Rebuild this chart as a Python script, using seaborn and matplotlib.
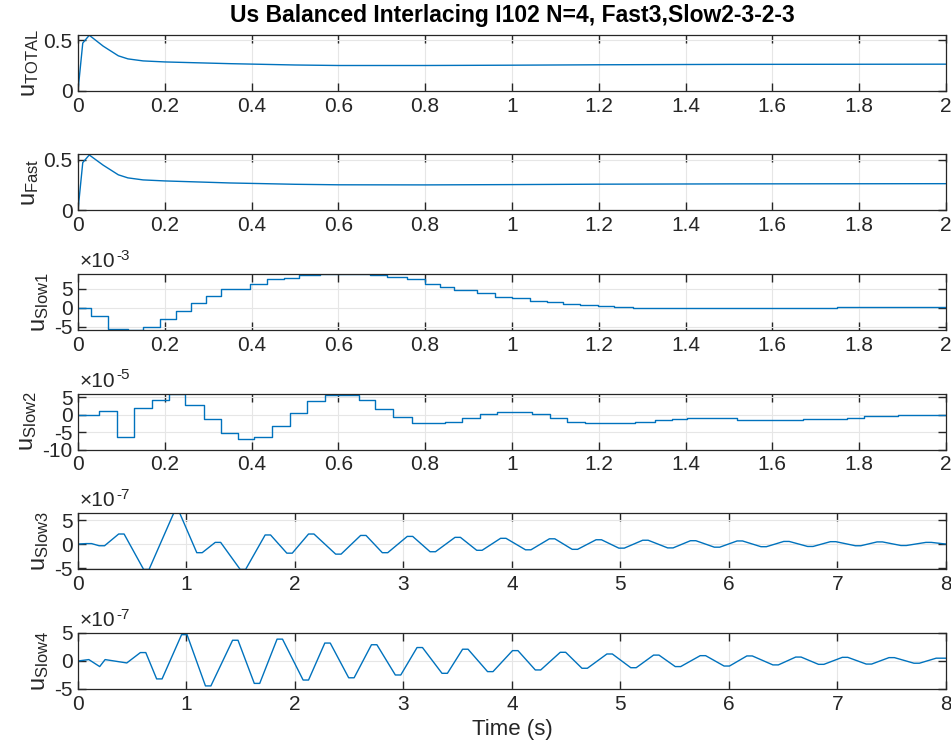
import numpy as np
import pandas as pd
import matplotlib
matplotlib.use("Agg")
import matplotlib.pyplot as plt
import seaborn as sns
from matplotlib.ticker import FuncFormatter

# ---- data ----
# u_TOTAL and u_Fast (time in s)
t_total = [0, 0.011, 0.026, 0.058, 0.093, 0.115, 0.15, 0.2, 0.35, 0.5, 0.6, 0.8, 1.0, 1.2, 1.5, 2.0]
u_total = [0, 0.47, 0.547, 0.44, 0.345, 0.315, 0.295, 0.285, 0.268, 0.255, 0.25, 0.25, 0.253, 0.257, 0.261, 0.263]
t_fast = [0, 0.011, 0.026, 0.058, 0.093, 0.115, 0.15, 0.2, 0.35, 0.5, 0.6, 0.8, 1.0, 1.2, 1.5, 2.0]
u_fast = [0, 0.47, 0.545, 0.445, 0.35, 0.32, 0.30, 0.29, 0.27, 0.257, 0.252, 0.251, 0.254, 0.258, 0.261, 0.263]

# u_Slow1 (x1e-3), step changes
t_slow1 = [0, 0.03, 0.07, 0.115, 0.15, 0.19, 0.225, 0.26, 0.295, 0.33, 0.397, 0.435, 0.474,
           0.51, 0.558, 0.674, 0.712, 0.758, 0.80, 0.835, 0.866, 0.904, 0.919, 0.961, 1.0,
           1.041, 1.08, 1.118, 1.157, 1.199, 1.234, 1.28, 1.326, 1.518, 1.749, 2.0]
u_slow1 = [0, -2.0, -5.6, -5.8, -5.0, -2.8, -0.8, 1.4, 3.2, 5.0, 6.4, 7.5, 8.0,
           8.6, 8.95, 8.6, 8.2, 7.5, 6.3, 5.5, 4.7, 4.7, 3.9, 3.0, 2.5,
           1.9, 1.5, 1.05, 0.8, 0.5, 0.26, 0.1, 0.0, 0.1, 0.26, 0.26]

# u_Slow2 (x1e-5), step changes
t_slow2 = [0, 0.048, 0.09, 0.128, 0.17, 0.209, 0.247, 0.29, 0.33, 0.368, 0.405, 0.447,
           0.489, 0.528, 0.57, 0.647, 0.685, 0.727, 0.77, 0.808, 0.846, 0.885, 0.926,
           0.965, 1.045, 1.087, 1.126, 1.168, 1.241, 1.283, 1.33, 1.368, 1.403, 1.518,
           1.671, 1.771, 1.81, 1.89, 2.0]
u_slow2 = [0, 1.0, -6.5, 2.0, 4.2, 5.9, 2.9, -1.2, -5.2, -7.0, -6.3, -3.3,
           0.5, 3.9, 5.7, 4.1, 1.6, -0.7, -2.3, -2.5, -2.0, -0.9, 0.2,
           0.8, 0.2, -1.0, -2.0, -2.5, -2.4, -2.1, -1.6, -1.2, -0.8, -1.4,
           -1.2, -0.8, -0.4, 0.0, 0.0]

# u_Slow3 (x1e-7), short flat tops/bottoms of the oscillation
t_slow3 = [0, 0.075, 0.125, 0.195, 0.245, 0.375, 0.425, 0.605, 0.655, 0.885, 0.935,
           1.095, 1.145, 1.265, 1.315, 1.495, 1.545, 1.725, 1.775, 1.925, 1.975,
           2.125, 2.175, 2.375, 2.425, 2.605, 2.655, 2.805, 2.855, 3.035, 3.085,
           3.245, 3.295, 3.475, 3.525, 3.675, 3.725, 3.895, 3.945, 4.125, 4.175,
           4.345, 4.395, 4.555, 4.605, 4.775, 4.825, 4.985, 5.035, 5.205, 5.255,
           5.435, 5.485, 5.645, 5.695, 5.865, 5.915, 6.075, 6.125, 6.295, 6.345,
           6.505, 6.555, 6.725, 6.775, 6.935, 6.985, 7.165, 7.215, 7.365, 7.415,
           7.585, 7.635, 7.815, 7.865, 8.0]
u_slow3 = [0, 0.1, 0.1, -0.35, -0.35, 2.1, 2.1, -5.3, -5.3, 6.6, 6.6,
           -1.8, -1.8, 0.35, 0.35, -5.3, -5.3, 1.9, 1.9, -1.9, -1.9,
           2.1, 2.1, -2.1, -2.1, 1.8, 1.8, -1.8, -1.8, 1.6, 1.6,
           -1.6, -1.6, 1.4, 1.4, -1.3, -1.3, 1.2, 1.2, -1.2, -1.2,
           1.1, 1.1, -1.1, -1.1, 0.9, 0.9, -0.85, -0.85, 0.8, 0.8,
           -0.8, -0.8, 0.7, 0.7, -0.65, -0.65, 0.65, 0.65, -0.55, -0.55,
           0.55, 0.55, -0.5, -0.5, 0.5, 0.5, -0.35, -0.35, 0.45, 0.45,
           -0.3, -0.3, 0.35, 0.35, 0.0]

# u_Slow4 (x1e-7), short flat tops/bottoms of the oscillation
t_slow4 = [0, 0.1, 0.2, 0.25, 0.3, 0.45, 0.575, 0.625, 0.725, 0.775, 0.955, 1.005,
           1.175, 1.225, 1.425, 1.475, 1.625, 1.675, 1.835, 1.885, 2.075, 2.125,
           2.275, 2.325, 2.495, 2.545, 2.705, 2.755, 2.925, 2.975, 3.125, 3.175,
           3.355, 3.405, 3.545, 3.595, 3.775, 3.825, 4.005, 4.055, 4.215, 4.265,
           4.445, 4.495, 4.645, 4.695, 4.875, 4.925, 5.095, 5.145, 5.305, 5.355,
           5.505, 5.555, 5.735, 5.785, 5.955, 6.005, 6.165, 6.215, 6.405, 6.455,
           6.615, 6.665, 6.825, 6.875, 7.045, 7.095, 7.265, 7.315, 7.475, 7.525,
           7.705, 7.755, 7.91, 8.0]
u_slow4 = [0, 0.25, -1.0, 0.25, 0.1, -0.35, 1.5, 1.5, -3.2, -3.2, 4.7, 4.7,
           -4.45, -4.45, 3.7, 3.7, -4.0, -4.0, 3.9, 3.9, -3.4, -3.4,
           3.2, 3.2, -3.0, -3.0, 2.9, 2.9, -2.5, -2.5, 2.4, 2.4,
           -2.2, -2.2, 2.1, 2.1, -1.9, -1.9, 1.85, 1.85, -1.6, -1.6,
           1.55, 1.55, -1.3, -1.3, 1.25, 1.25, -1.2, -1.2, 1.05, 1.05,
           -1.0, -1.0, 0.95, 0.95, -0.9, -0.9, 0.9, 0.9, -0.7, -0.7,
           0.7, 0.7, -0.6, -0.6, 0.65, 0.65, -0.55, -0.55, 0.6, 0.6,
           -0.4, -0.4, 0.5, 0.5]

panels = [
    ("u$_{TOTAL}$", t_total, u_total, 1, 2, (0, 0.55), [0, 0.5], None, False),
    ("u$_{Fast}$", t_fast, u_fast, 1, 2, (0, 0.55), [0, 0.5], None, False),
    ("u$_{Slow1}$", t_slow1, u_slow1, 1e-3, 2, (-5.8e-3, 8.95e-3), [-5e-3, 0, 5e-3], -3, True),
    ("u$_{Slow2}$", t_slow2, u_slow2, 1e-5, 2, (-10e-5, 6.1e-5), [-10e-5, -5e-5, 0, 5e-5], -5, True),
    ("u$_{Slow3}$", t_slow3, u_slow3, 1e-7, 8, (-5.2e-7, 6.5e-7), [-5e-7, 0, 5e-7], -7, False),
    ("u$_{Slow4}$", t_slow4, u_slow4, 1e-7, 8, (-5e-7, 5e-7), [-5e-7, 0, 5e-7], -7, False),
]

sns.set_theme(style="ticks")
plt.rcParams["font.family"] = ["Liberation Sans", "DejaVu Sans"]
plt.rcParams["mathtext.default"] = "regular"
plt.rcParams["axes.unicode_minus"] = False

dark = "#262626"
line_color = "#0072BD"
fig = plt.figure(figsize=(9.51, 7.53), dpi=100)
bottoms = [0.8792, 0.7205, 0.5618, 0.403, 0.2444, 0.085]

for i, (lab, t, u, scale, tmax, ylim, yticks, order, steps) in enumerate(panels):
    ax = fig.add_axes([0.082, bottoms[i], 0.9127, 0.0744])
    df = pd.DataFrame({"t": t, "u": np.array(u) * scale})
    kw = {"drawstyle": "steps-post"} if steps else {}
    sns.lineplot(data=df, x="t", y="u", ax=ax, color=line_color, lw=1.0,
                 estimator=None, **kw)
    ax.set_xlim(0, tmax)
    ax.set_ylim(*ylim)
    if tmax == 2:
        ax.set_xticks(np.arange(0, 2.01, 0.2))
    else:
        ax.set_xticks(range(0, 9))
    ax.xaxis.set_major_formatter(FuncFormatter(lambda v, p: f"{v:g}"))
    ax.set_yticks(yticks)
    if order is None:
        ax.yaxis.set_major_formatter(FuncFormatter(lambda v, p: f"{v:g}"))
    else:
        ax.yaxis.set_major_formatter(
            FuncFormatter(lambda v, p, o=order: f"{round(v / 10 ** o, 6):g}"))
        base = ax.annotate("×10", xy=(0, 1), xycoords="axes fraction", xytext=(1, 2),
                           textcoords="offset points", fontsize=15, color=dark,
                           ha="left", va="bottom")
        ax.annotate(f"{order}", xy=(1, 0.45), xycoords=base, xytext=(1, 0),
                    textcoords="offset points", fontsize=11, color=dark,
                    ha="left", va="bottom")
    ax.grid(True, color="#e6e6e6", lw=0.8)
    ax.tick_params(direction="in", top=True, right=True, length=6, width=1.0,
                   labelsize=15, colors=dark, pad=4)
    for s in ax.spines.values():
        s.set_color(dark)
        s.set_linewidth(0.9)
    ax.set_ylabel(lab, fontsize=17, color=dark, labelpad=2)
    ax.set_xlabel("")
    if i == 0:
        ax.set_title("Us Balanced Interlacing I102 N=4, Fast3,Slow2-3-2-3",
                     fontsize=16.5, fontweight="bold", pad=9, color="black")
    if i == 5:
        ax.set_xlabel("Time (s)", fontsize=16, color=dark, labelpad=4)

fig.savefig("out.png", dpi=100)
